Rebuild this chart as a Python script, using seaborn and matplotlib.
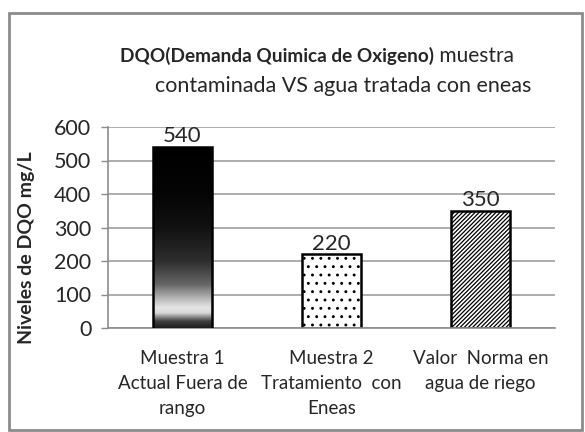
import numpy as np
import pandas as pd
import matplotlib
matplotlib.use("Agg")
import matplotlib.pyplot as plt
import seaborn as sns
from matplotlib.patches import Rectangle

# Chart data
categories = ["Muestra 1\nActual Fuera de\nrango", "Muestra 2\nTratamiento  con\nEneas", "Valor  Norma en\nagua de riego"]
values = [540, 220, 350]
y_ticks = [0, 100, 200, 300, 400, 500, 600]

sns.set_style("white")
plt.rcParams["font.family"] = ["Lato", "DejaVu Sans"]
plt.rcParams["hatch.linewidth"] = 0.9

df = pd.DataFrame({"cat": categories, "val": values})

fig = plt.figure(figsize=(5.85, 4.32), dpi=100)
ax = fig.add_axes([108 / 585, 1 - 328 / 432, 447 / 585, 201 / 432])

sns.barplot(data=df, x="cat", y="val", ax=ax, width=0.4, color="white",
            edgecolor="black", linewidth=1.8, saturation=1)

bars = ax.patches
# gradient fill for first bar (dark top, light band near bottom)
b = bars[0]
x0, w, h = b.get_x(), b.get_width(), b.get_height()
v = np.linspace(0, h, 300)
shade = np.interp(v, [0, 20, 45, 60, 90, 130, 200, 300, 400, 540],
                  [0.12, 0.25, 0.85, 0.9, 0.7, 0.4, 0.18, 0.07, 0.02, 0.0])
img = np.tile(shade[:, None], (1, 20))
ax.imshow(img, cmap="gray", vmin=0, vmax=1, origin="lower", aspect="auto",
          extent=[x0, x0 + w, 0, h], zorder=2, interpolation="bilinear")
b.set_facecolor("none")
b.set_zorder(3)

bars[1].set_hatch("..")
bars[2].set_hatch("////////")

ax.set_xlim(-0.5, 2.5)
ax.set_ylim(0, 600)
ax.set_yticks(y_ticks)
ax.set_yticklabels([str(t) for t in y_ticks], fontsize=15.5)
ax.tick_params(axis="x", length=0, pad=16, labelsize=13.5)
ax.tick_params(axis="y", length=5, width=1, color="#8c8c8c", pad=7, left=True)
for lbl in ax.get_xticklabels():
    lbl.set_linespacing(1.55)
ax.grid(axis="y", color="#a0a0a0", linewidth=1.2)
ax.set_axisbelow(True)
for side in ["top", "right"]:
    ax.spines[side].set_visible(False)
for side in ["left", "bottom"]:
    ax.spines[side].set_color("#8c8c8c")
    ax.spines[side].set_linewidth(1.2)
ax.set_xlabel("")
ax.set_ylabel("Niveles de DQO mg/L", fontsize=14, fontweight="bold")
ax.yaxis.set_label_coords(-(108 - 35) / 447, 0.4)

for bar, val in zip(bars, values):
    ax.text(bar.get_x() + bar.get_width() / 2, val + 2, str(val), ha="center",
            va="bottom", fontsize=16)

# title with mixed weight
t1 = fig.text(120 / 585, 1 - 56 / 432, "DQO(Demanda Quimica de Oxigeno)", ha="left",
              va="center", fontsize=13.7, fontweight="bold")
fig.add_artist(plt.matplotlib.text.Annotation(
    " muestra", xy=(1, 0.5), xycoords=t1, ha="left", va="center",
    fontsize=15, annotation_clip=False))
fig.text(343 / 585, 1 - 86 / 432, "contaminada VS agua tratada con eneas",
         ha="center", va="center", fontsize=15.5)

fig.patches.append(Rectangle((9 / 585, 1 - 430 / 432), 573 / 585, 417 / 432,
                             transform=fig.transFigure, fill=False,
                             edgecolor="#8c8c8c", linewidth=2))

fig.savefig("out.png", dpi=100)
